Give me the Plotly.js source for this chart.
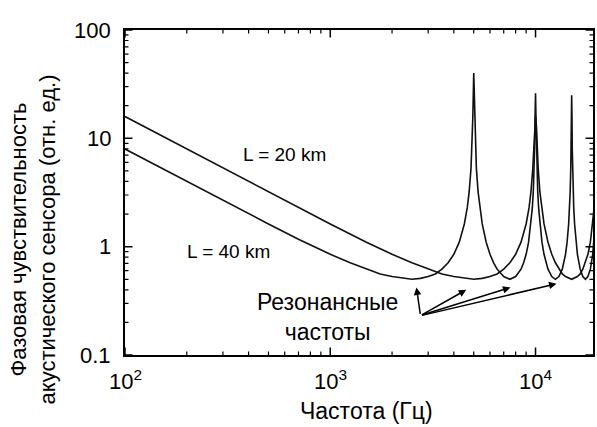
<!DOCTYPE html>
<html>
<head>
<meta charset="utf-8">
<script src="https://cdn.plot.ly/plotly-3.0.1.min.js"></script>
<style>html,body{margin:0;padding:0;background:#fff;}#chart{width:597px;height:427px;}</style>
</head>
<body>
<div id="chart"></div>
<script>
// Frequency (Hz) and phase sensitivity (rel. units)
const freq20 = [100,150,200,300,400,500,700,1000,1500,2000,2500,3000,3500,4000,4500,5000,5500,6000,6500,7000,7500,8000,8500,9000,9300,9500,9700,9800,9900,10000,10100,10200,10300,10500,10700,11000,11500,12000,12500,13000,13500,14000,15000,16000,16500,17000,18000,18500,19000,19300,19500,19700,20000];
const sens20 = [15.9,10.6,7.96,5.31,3.99,3.2,2.29,1.62,1.1,0.85,0.71,0.62,0.56,0.53,0.51,0.5,0.51,0.53,0.56,0.62,0.71,0.85,1.1,1.62,2.29,3.2,5.31,7.96,13,16,13,7.96,5.31,3.2,2.29,1.62,1.1,0.85,0.71,0.62,0.56,0.53,0.5,0.53,0.56,0.62,0.85,1.1,1.62,2.29,3.2,5.31,15];

const freq40 = [100,150,200,300,400,500,700,1000,1250,1500,1750,2000,2250,2500,2750,3000,3250,3500,3750,4000,4250,4500,4650,4750,4850,4900,4950,5000,5050,5100,5150,5250,5350,5500,5750,6000,6250,6500,7000,7500,8000,8500,8750,9000,9250,9500,9650,9750,9850,9900,9950,10000,10050,10100,10150,10250,10350,10500,10750,11000,11500,12000,12500,13000,13500,14000,14250,14500,14650,14750,14850,14900,14950,15000,15050,15100,15150,15250,15350,15500,15750,16000,16500,17000,17500,18000,18500,19000,19500,20000];
const sens40 = [7.96,5.31,3.99,2.67,2.01,1.62,1.17,0.85,0.71,0.62,0.56,0.53,0.51,0.5,0.51,0.53,0.56,0.62,0.71,0.85,1.1,1.62,2.29,3.2,5.31,7.96,15.9,40,15.9,7.96,5.31,3.2,2.29,1.62,1.1,0.85,0.71,0.62,0.53,0.5,0.53,0.62,0.71,0.85,1.1,1.62,2.29,3.2,5.31,7.96,15.9,26,15.9,7.96,5.31,3.2,2.29,1.62,1.1,0.85,0.62,0.53,0.5,0.53,0.62,0.85,1.1,1.62,2.29,3.2,5.31,7.96,15.9,25,15.9,7.96,5.31,3.2,2.29,1.62,1.1,0.85,0.62,0.53,0.5,0.53,0.62,0.85,1.62,20];

const seriesNames = ['L = 20 km', 'L = 40 km'];
const yTitleLines = ['Фазовая чувствительность', 'акустического сенсора (отн. ед.)'];
const xTitle = 'Частота (Гц)';
const noteText = 'Резонансные<br>частоты';
const xMajorTicks = [100, 1000, 10000];
const xMajorLabels = ['10<sup>2</sup>', '10<sup>3</sup>', '10<sup>4</sup>'];
const xMinorTicks = [200,300,400,500,600,700,800,900,2000,3000,4000,5000,6000,7000,8000,9000];
const yMajorTicks = [0.1, 1, 10, 100];
const yMajorLabels = ['0.1', '1', '10', '100'];
const yMinorTicks = [0.2,0.3,0.4,0.5,0.6,0.7,0.8,0.9,2,3,4,5,6,7,8,9,20,30,40,50,60,70,80,90];
// arrow targets: resonance frequencies (Hz) and level
const arrowFreq = [2630, 4600, 7550, 12650];
const arrowLevel = [0.42, 0.40, 0.42, 0.455];

const FONT = 'Liberation Sans, Arial, Helvetica, sans-serif';
const lineStyle = {color: '#111', width: 1.6};

const traces = [
  {x: freq20, y: sens20, type: 'scatter', mode: 'lines', name: seriesNames[0], line: lineStyle},
  {x: freq40, y: sens40, type: 'scatter', mode: 'lines', name: seriesNames[1], line: lineStyle}
];

const xRange = [2, 4.28];
const yRange = [-1, 2];
const base = {
  type: 'log', showgrid: false, zeroline: false, tickmode: 'array',
  showline: true, linecolor: '#000', linewidth: 1.5, mirror: true,
  ticks: '', showticklabels: false
};
const labelFont = {family: FONT, size: 22, color: '#000'};

const annotations = [
  {xref: 'x', yref: 'y', x: Math.log10(600), y: Math.log10(7.05), text: seriesNames[0], showarrow: false,
   font: {family: FONT, size: 19, color: '#000'}},
  {xref: 'x', yref: 'y', x: Math.log10(318), y: Math.log10(0.9), text: seriesNames[1], showarrow: false,
   font: {family: FONT, size: 19, color: '#000'}},
  {xref: 'x', yref: 'y', x: Math.log10(965), y: Math.log10(0.224), text: noteText, showarrow: false,
   font: {family: FONT, size: 23, color: '#000'}},
  {xref: 'paper', yref: 'paper', x: -0.197, y: 0.355, text: yTitleLines.join('<br>'), textangle: -90,
   showarrow: false, xanchor: 'center', yanchor: 'middle', font: {family: FONT, size: 22, color: '#000'}},
  {xref: 'paper', yref: 'paper', x: 0.516, y: -0.172, text: xTitle, showarrow: false,
   xanchor: 'center', yanchor: 'middle', font: {family: FONT, size: 23, color: '#000'}}
];
// decade tick labels
xMajorTicks.forEach(function (v, i) {
  annotations.push({xref: 'x', yref: 'paper', x: Math.log10(v), y: -0.078, text: xMajorLabels[i],
    showarrow: false, xanchor: 'center', yanchor: 'middle', font: labelFont});
});
yMajorTicks.forEach(function (v, i) {
  annotations.push({xref: 'paper', yref: 'y', x: -0.026, y: Math.log10(v), text: yMajorLabels[i],
    showarrow: false, xanchor: 'right', yanchor: 'middle', font: labelFont});
});
// inside tick marks on all four sides (head-less arrows of fixed pixel length)
function tick(xref, yref, x, y, ax, ay, w) {
  annotations.push({xref: xref, yref: yref, x: x, y: y, text: '', showarrow: true, arrowhead: 0,
    arrowwidth: w, arrowcolor: '#000', standoff: 0, startstandoff: 0, ax: ax, ay: ay});
}
xMajorTicks.concat(xMinorTicks).forEach(function (v, i) {
  const major = i < xMajorTicks.length;
  const len = major ? 9 : 5;
  tick('x', 'paper', Math.log10(v), 0, 0, -len, major ? 1.5 : 1.2);
  tick('x', 'paper', Math.log10(v), 1, 0, len, major ? 1.5 : 1.2);
});
yMajorTicks.concat(yMinorTicks).forEach(function (v, i) {
  const major = i < yMajorTicks.length;
  const len = major ? 9 : 5;
  tick('paper', 'y', 0, Math.log10(v), len, 0, major ? 1.5 : 1.2);
  tick('paper', 'y', 1, Math.log10(v), -len, 0, major ? 1.5 : 1.2);
});
// pointer arrows
const origin = [420, 316];
const tipPx = [[416, 288], [466, 290], [510, 288], [556, 284]];
arrowFreq.forEach(function (f, i) {
  annotations.push({xref: 'x', yref: 'y', x: Math.log10(f), y: Math.log10(arrowLevel[i]), text: '',
    showarrow: true, arrowhead: 2, arrowsize: 1, arrowwidth: 1.5, arrowcolor: '#000',
    ax: origin[0] - tipPx[i][0], ay: origin[1] - tipPx[i][1]});
});

const layout = {
  width: 597, height: 427,
  margin: {l: 125, r: 4, t: 30, b: 72},
  paper_bgcolor: '#fff', plot_bgcolor: '#fff',
  showlegend: false,
  font: {family: FONT, color: '#000'},
  xaxis: Object.assign({}, base, {range: xRange}),
  yaxis: Object.assign({}, base, {range: yRange}),
  annotations: annotations
};

Plotly.newPlot('chart', traces, layout, {displayModeBar: false});
</script>
</body>
</html>
